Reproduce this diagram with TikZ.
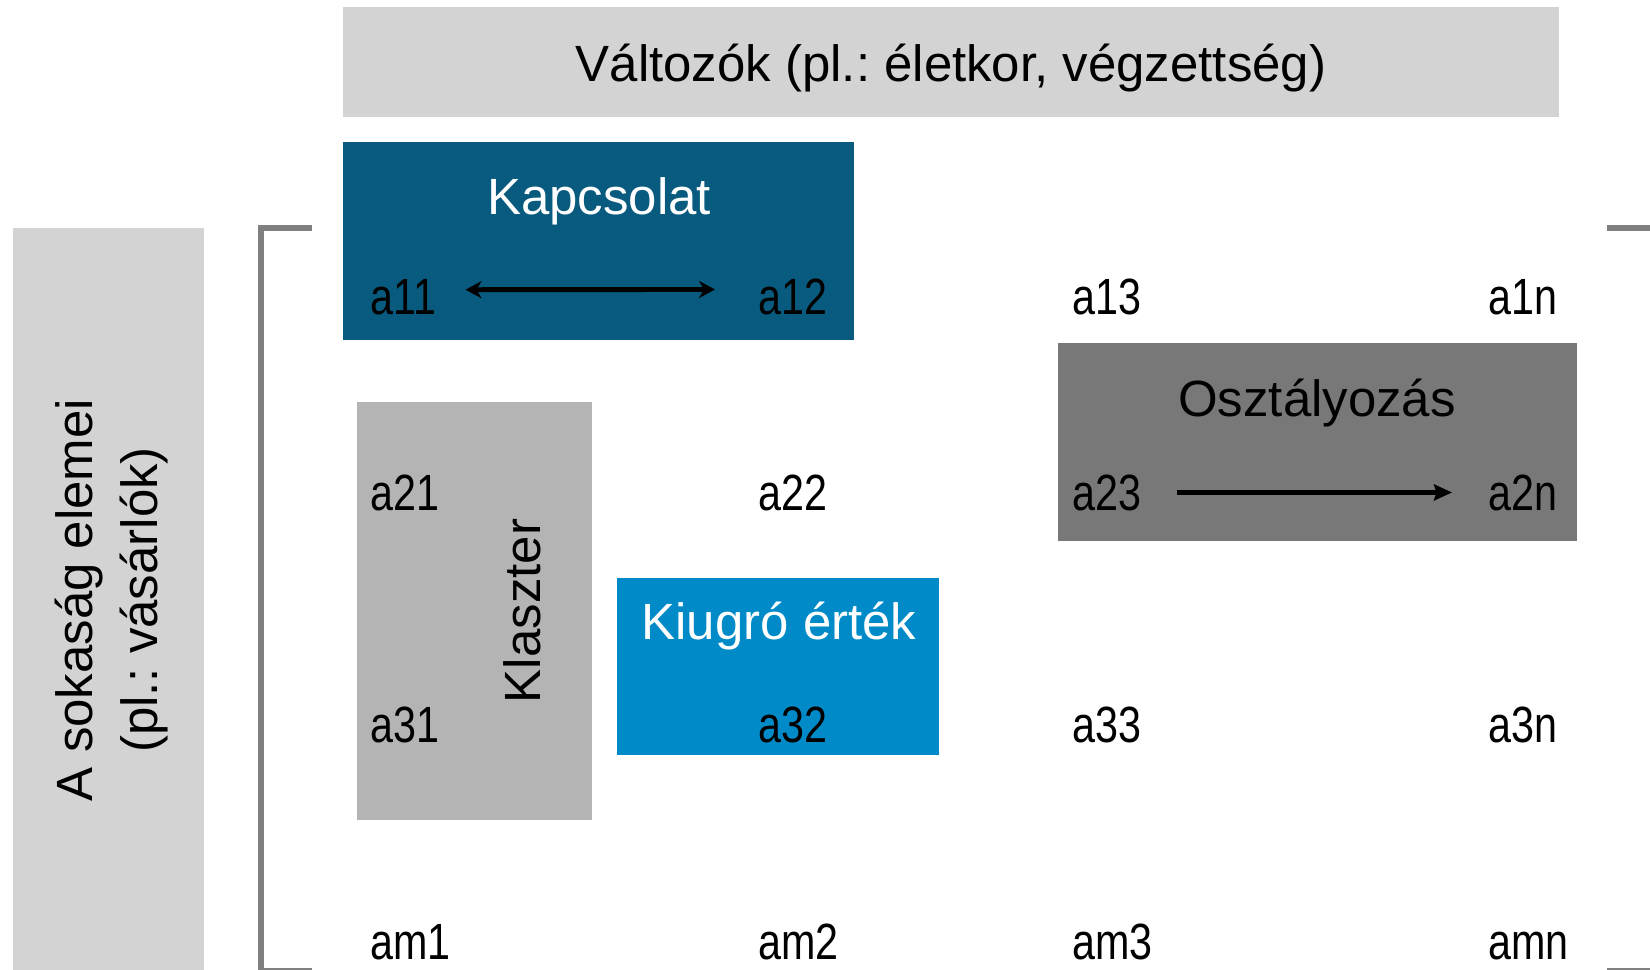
\documentclass[tikz,border=0pt]{standalone}
\usepackage{fontspec}
\setmainfont{Liberation Sans}
\newfontfamily\narrowfont{Liberation Sans}[FakeStretch=0.81]
\usetikzlibrary{arrows.meta}
\frenchspacing

\definecolor{lightgrey}{HTML}{D3D3D3}
\definecolor{midgrey}{HTML}{B4B4B4}
\definecolor{darkgrey}{HTML}{787878}
\definecolor{bracketgrey}{HTML}{808080}
\definecolor{petrol}{HTML}{085B7E}
\definecolor{skyblue}{HTML}{008BC8}

\tikzset{
  title/.style={font=\fontsize{29}{37}\selectfont, inner sep=0pt},
  cell/.style={font=\narrowfont\fontsize{29}{34}\selectfont, anchor=base west, inner sep=0pt},
  relarrow/.style={line width=2.8pt},
}

\begin{document}
\begin{tikzpicture}[x=0.02cm, y=-0.02cm]
    \useasboundingbox (0,0) rectangle (1650,970);

    % fejlec es oldalso sav
    \fill[lightgrey] (343,7) rectangle (1559,117);
    \fill[lightgrey] (13,228) rectangle (204,975);
    \node[title] (valtozok) at (951,68) {Változók (pl.: életkor, végzettség)};
    \node[title, rotate=90, align=center] (sokasag) at (112,600) {A sokaság elemei\\(pl.: vásárlók)};

    % matrix zarojel
    \draw[bracketgrey, line width=3.4pt] (312,228) -- (261,228) -- (261,971) -- (312,971);
    \draw[bracketgrey, line width=3.4pt] (1607,228) -- (1662,228) -- (1662,971) -- (1607,971);

    % kiemelt teruletek
    \fill[petrol] (343,142) rectangle (854,340);
    \fill[midgrey] (357,402) rectangle (592,820);
    \fill[skyblue] (617,578) rectangle (939,755);
    \fill[darkgrey] (1058,343) rectangle (1577,541);

    \node[title, text=white] (kapcsolat) at (599,201) {Kapcsolat};
    \node[title, rotate=90] (klaszter) at (522,611) {Klaszter};
    \node[title, text=white] (kiugro) at (779,626) {Kiugró érték};
    \node[title] (osztalyozas) at (1317,403) {Osztályozás};

    % matrix elemei (alapvonalra igazitva)
    \node[cell] (a11) at (370,314) {a11};
    \node[cell] (a12) at (758,314) {a12};
    \node[cell] (a13) at (1072,314) {a13};
    \node[cell] (a1n) at (1488,314) {a1n};

    \node[cell] (a21) at (370,510) {a21};
    \node[cell] (a22) at (758,510) {a22};
    \node[cell] (a23) at (1072,510) {a23};
    \node[cell] (a2n) at (1488,510) {a2n};

    \node[cell] (a31) at (370,742) {a31};
    \node[cell] (a32) at (758,742) {a32};
    \node[cell] (a33) at (1072,742) {a33};
    \node[cell] (a3n) at (1488,742) {a3n};

    \node[cell] (am1) at (370,959) {am1};
    \node[cell] (am2) at (758,959) {am2};
    \node[cell] (am3) at (1072,959) {am3};
    \node[cell] (amn) at (1488,959) {amn};

    % nyilak
    \draw[relarrow, {Stealth[length=0.32cm,width=0.34cm,inset=0.1cm]}-{Stealth[length=0.32cm,width=0.34cm,inset=0.1cm]}]
        ([xshift=0.58cm,yshift=0.14cm]a11.east) -- ([xshift=-0.86cm,yshift=0.14cm]a12.west);
    \draw[relarrow, line width=3.2pt, -{Stealth[length=0.36cm,width=0.32cm,inset=0.05cm]}]
        ([xshift=0.7cm]a23.east) -- ([xshift=-0.72cm]a2n.west);

\end{tikzpicture}
\end{document}
